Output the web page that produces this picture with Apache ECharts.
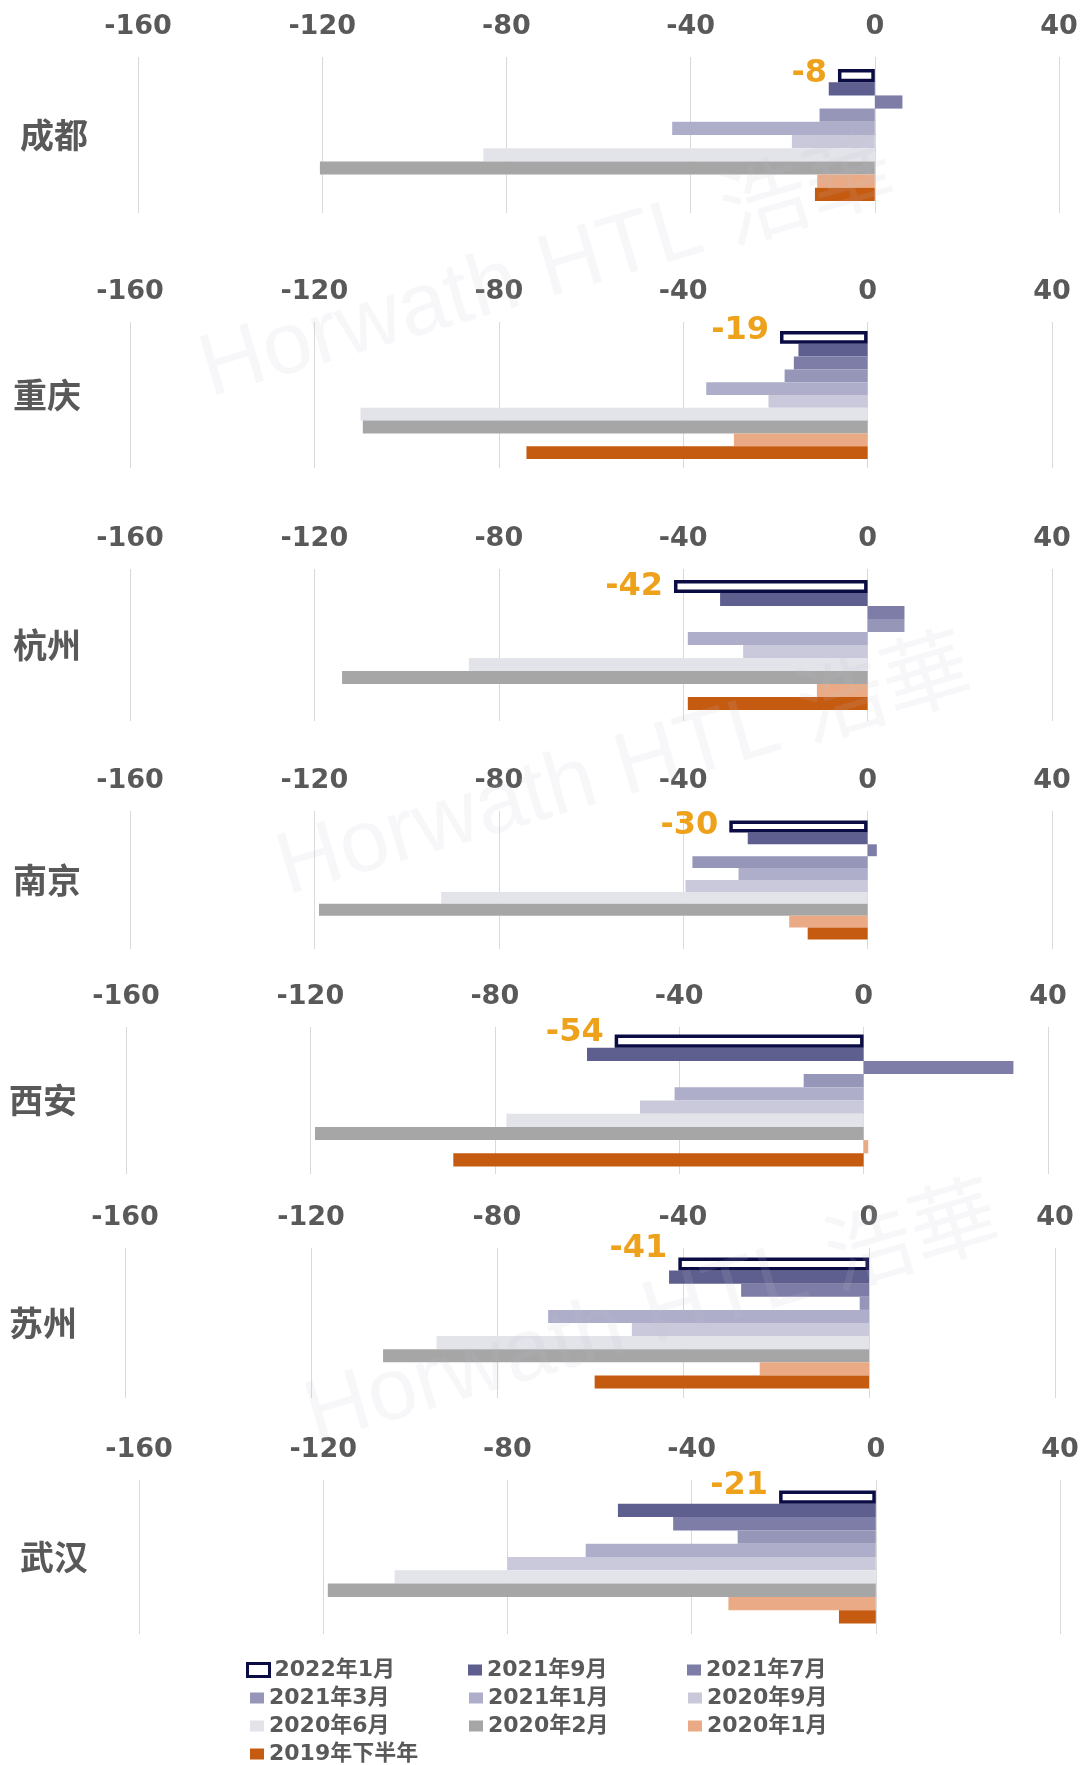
<!DOCTYPE html>
<html>
<head>
<meta charset="utf-8">
<script src="https://cdn.jsdelivr.net/npm/echarts@6/dist/echarts.min.js"></script>
<style>
html,body{margin:0;padding:0;background:#fff;}
#chart{width:1084px;height:1765px;}
</style>
</head>
<body>
<div id="chart"></div>
<script>
// ---- data ----
const cities = ['成都', '重庆', '杭州', '南京', '西安', '苏州', '武汉'];
const seriesNames = ['2022年1月', '2021年9月', '2021年7月', '2021年3月', '2021年1月',
                     '2020年9月', '2020年6月', '2020年2月', '2020年1月', '2019年下半年'];
const xTickMin = -160;
const xTickMax = 40;
const xTickStep = 40;
// values per series, one entry per city (same order as cities)
const v2022_01 = [-8, -19, -42, -30, -54, -41, -21];
const v2021_09 = [-10, -15, -32, -26, -60, -43, -56];
const v2021_07 = [6, -16, 8, 2, 32.5, -27.5, -44];
const v2021_03 = [-12, -18, 8, -38, -13, -2, -30];
const v2021_01 = [-44, -35, -39, -28, -41, -69, -63];
const v2020_09 = [-18, -21.5, -27, -39.5, -48.5, -51, -80];
const v2020_06 = [-85, -110, -86.5, -92.5, -77.5, -93, -104.5];
const v2020_02 = [-120.5, -109.5, -114, -119, -119, -104.5, -119];
const v2020_01 = [-12.5, -29, -11, -17, 1, -23.5, -32];
const v2019_h2 = [-13, -74, -39, -13, -89, -59, -8];
const seriesValues = [v2022_01, v2021_09, v2021_07, v2021_03, v2021_01,
                      v2020_09, v2020_06, v2020_02, v2020_01, v2019_h2];

// ---- styles / layout ----
const seriesColors = ['#ffffff', '#5f5f8f', '#7d7da7', '#9696b9', '#aeaeca',
                      '#c9c9db', '#e3e3ea', '#a6a6a6', '#e9aa85', '#c55a11'];
const panels = [
  {left: 138, width: 921, top: 57, height: 156, gap: '15.4%', dy: -2, nameLeft: 20},
  {left: 130, width: 922, top: 322, height: 146, gap: '12.3%', dy: -7, nameLeft: 13},
  {left: 130, width: 922, top: 569, height: 152, gap: '14.5%', dy: 0, nameLeft: 13},
  {left: 130, width: 922, top: 811, height: 138, gap: '13.8%', dy: -1, nameLeft: 13},
  {left: 126, width: 922, top: 1027, height: 147, gap: '10.2%', dy: -8, nameLeft: 9},
  {left: 125, width: 930, top: 1248, height: 150, gap: '12.7%', dy: -15, nameLeft: 9},
  {left: 139, width: 921, top: 1480, height: 154, gap: '13.6%', dy: -11, nameLeft: 20}
];
const txtFont = "'DejaVu Sans', 'Noto Sans CJK SC', sans-serif";
const cjkFont = "'Noto Sans CJK SC', 'DejaVu Sans', sans-serif";

const grid = [], xAxis = [], yAxis = [], series = [];
panels.forEach((p, i) => {
  grid.push({left: p.left, top: p.top, width: p.width, height: p.height, containLabel: false});
  xAxis.push({
    type: 'value', gridIndex: i, position: 'top',
    min: xTickMin, max: xTickMax, interval: xTickStep,
    axisLine: {show: false}, axisTick: {show: false},
    axisLabel: {show: true, margin: 17, color: '#595959', fontSize: 27, fontWeight: 'bold', fontFamily: txtFont},
    splitLine: {show: true, lineStyle: {color: '#d9d9d9', width: 1}}
  });
  yAxis.push({
    type: 'category', gridIndex: i, inverse: true, data: [cities[i]],
    axisLine: {show: false}, axisTick: {show: false}, splitLine: {show: false},
    axisLabel: {show: true, align: 'left', margin: p.left - p.nameLeft,
                color: '#595959', fontSize: 34, fontWeight: 'bold', fontFamily: cjkFont}
  });
  seriesNames.forEach((name, s) => {
    const item = {
      name: name, type: 'bar', xAxisIndex: i, yAxisIndex: i,
      data: [seriesValues[s][i]],
      barGap: '0%', barCategoryGap: p.gap,
      itemStyle: {color: seriesColors[s]},
      emphasis: {disabled: true}
    };
    if (s === 0) {
      item.itemStyle = {color: '#ffffff', borderColor: '#0c0c45', borderWidth: 3.5};
      item.z = 3;
      item.label = {
        show: true, position: 'left', distance: 11, offset: [0, p.dy],
        formatter: (d) => String(d.value),
        color: '#eea21b', fontSize: 32, fontWeight: 'bold', fontFamily: txtFont
      };
    }
    series.push(item);
  });
});

const legendBase = {
  orient: 'horizontal', itemGap: 0, itemWidth: 14, itemHeight: 11, icon: 'rect',
  selectedMode: true,
  textStyle: {color: '#595959', fontSize: 22, fontWeight: 'bold', fontFamily: txtFont, width: 200, lineHeight: 22}
};
const legend = [
  Object.assign({}, legendBase, {left: 241, top: 1654, itemWidth: 22, itemHeight: 13,
    data: [{name: seriesNames[0], itemStyle: {color: '#ffffff', borderColor: '#0c0c45', borderWidth: 3}}]}),
  Object.assign({}, legendBase, {left: 463, top: 1654, data: [seriesNames[1], seriesNames[2]]}),
  Object.assign({}, legendBase, {left: 245, top: 1682, data: [seriesNames[3], seriesNames[4], seriesNames[5]]}),
  Object.assign({}, legendBase, {left: 245, top: 1710, data: [seriesNames[6], seriesNames[7], seriesNames[8]]}),
  Object.assign({}, legendBase, {left: 245, top: 1738, data: [seriesNames[9]]})
];

const wmStyle = {fill: 'rgba(195,195,205,0.13)', font: "88px 'Liberation Sans', 'Noto Sans CJK SC', sans-serif",
                 text: 'Horwath HTL 浩華', align: 'center', verticalAlign: 'middle'};
const graphic = [
  {type: 'text', x: 548, y: 272, rotation: 0.286, z: 100, silent: true, style: Object.assign({}, wmStyle)},
  {type: 'text', x: 625, y: 770, rotation: 0.286, z: 100, silent: true, style: Object.assign({}, wmStyle)},
  {type: 'text', x: 653, y: 1318, rotation: 0.286, z: 100, silent: true, style: Object.assign({}, wmStyle)}
];

const chart = echarts.init(document.getElementById('chart'), null, {renderer: 'canvas'});
chart.setOption({
  backgroundColor: '#ffffff',
  animation: false,
  grid: grid, xAxis: xAxis, yAxis: yAxis, series: series,
  legend: legend, graphic: graphic
});
</script>
</body>
</html>
